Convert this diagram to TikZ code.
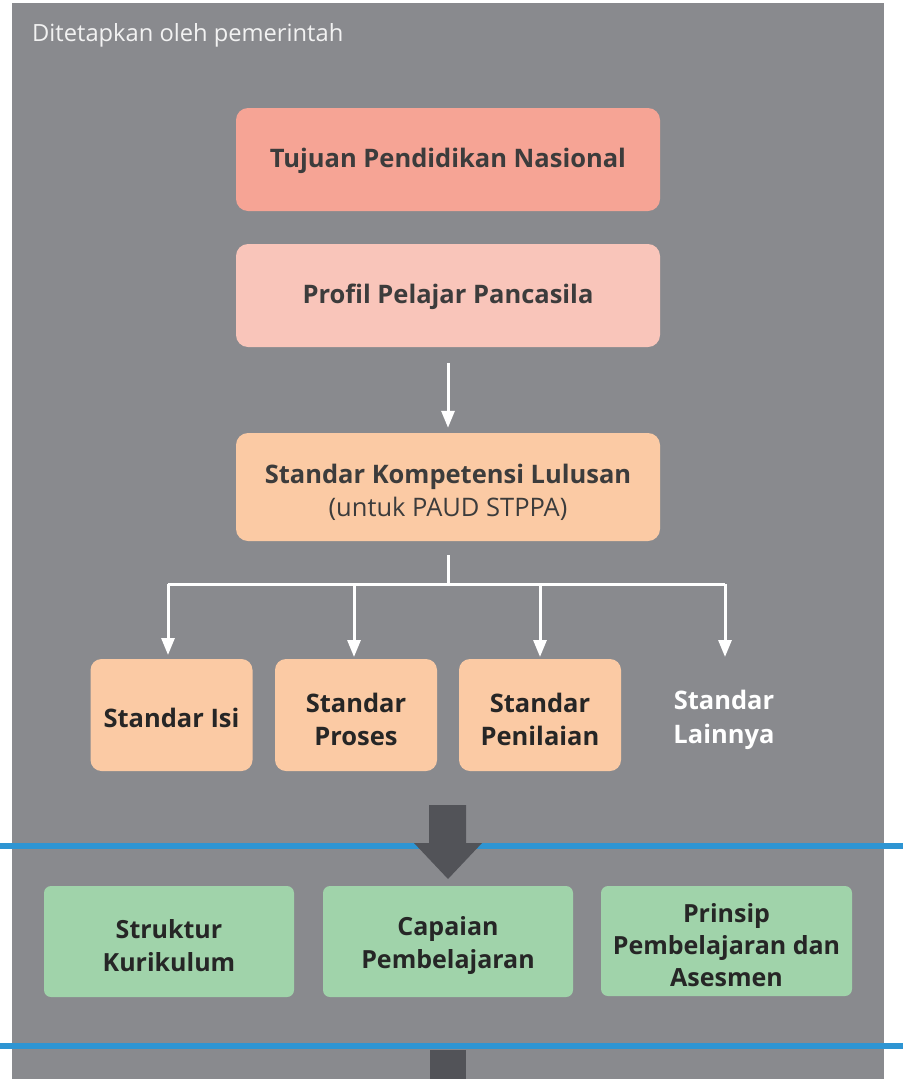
\documentclass[tikz,border=0pt]{standalone}
\usepackage{fontspec}
\setmainfont{Open Sans}
\usetikzlibrary{arrows.meta}
\definecolor{bgc}{HTML}{898A8E}
\definecolor{tujuanc}{HTML}{F6A495}
\definecolor{profilc}{HTML}{F9C5BA}
\definecolor{orangec}{HTML}{FBCAA4}
\definecolor{greenc}{HTML}{A0D3AA}
\definecolor{bluec}{HTML}{2E95D3}
\definecolor{darkc}{HTML}{525358}
\definecolor{txta}{HTML}{3C3C3C}
\definecolor{txtb}{HTML}{262626}
\begin{document}
\begin{tikzpicture}[x=1pt,y=-1pt,
  topbox/.style={rounded corners=12pt, minimum width=424pt, inner sep=0pt},
  toptxt/.style={align=center, inner sep=0pt, text=txta, font=\fontsize{25.5}{33}\selectfont\bfseries},
  stdbox/.style={fill=orangec, rounded corners=11pt, minimum width=162pt, minimum height=112pt, inner sep=0pt},
  stdtxt/.style={align=center, inner sep=0pt, text=txtb, font=\fontsize{25.5}{33}\selectfont\bfseries},
  grnbox/.style={fill=greenc, rounded corners=7pt, minimum width=250pt, minimum height=111pt, inner sep=0pt},
  grntxt/.style={align=center, inner sep=0pt, text=txtb, font=\fontsize{25}{33}\selectfont\bfseries},
  wline/.style={draw=white, line width=3pt},
  warrow/.style={wline, -{Triangle[width=13pt,length=17pt]}, fill=white},
  blueline/.style={draw=bluec, line width=6pt}
]
\useasboundingbox (0,0) rectangle (903,1079);
\fill[bgc] (12,3) rectangle (884,1079);
\node[anchor=west, text=white!95!black, font=\fontsize{23.7}{28}\selectfont, inner sep=0pt] (title) at (32,35) {Ditetapkan oleh pemerintah};

\node[topbox, fill=tujuanc, minimum height=103pt] (tujuan) at (448,159.5) {};
\node[toptxt] (tujuant) at ([yshift=-1pt]tujuan.center) {Tujuan Pendidikan Nasional};
\node[topbox, fill=profilc, minimum height=103pt] (profil) at (448,295.5) {};
\node[toptxt] (profilt) at ([yshift=-1pt]profil.center) {Profil Pelajar Pancasila};
\node[topbox, fill=orangec, minimum height=108pt] (skl) at (448,487) {};
\node[toptxt] (sklt) at ([yshift=-5pt]skl.center) {Standar Kompetensi Lulusan\\{\mdseries(untuk PAUD STPPA)}};

\draw[warrow, shorten <=16pt, shorten >=5pt] (profil.south) -- (skl.north);

\node[stdbox] (isi) at (171.5,715) {};
\node[stdtxt] (isit) at ([yshift=-3pt]isi.center) {Standar Isi};
\node[stdbox] (proses) at (356,715) {};
\node[stdtxt] (prosest) at ([yshift=-4pt]proses.center) {Standar\\Proses};
\node[stdbox] (penilaian) at (540,715) {};
\node[stdtxt] (penilaiant) at ([yshift=-4pt]penilaian.center) {Standar\\Penilaian};
\node[align=center, inner sep=0pt, text=white, font=\fontsize{25.5}{34}\selectfont\bfseries] (lainnya) at (724,720) {Standar\\Lainnya};

\coordinate (bus) at (448,584);
\coordinate (bisi) at (168,584);
\coordinate (blain) at (725,584);
\draw[wline, shorten <=14pt] (skl.south) -- (bus);
\draw[wline] (bisi) -- (blain);
\draw[warrow] (bisi) -- (168,655);
\draw[warrow] (354,584) -- (354,657);
\draw[warrow] (540,584) -- (540,657);
\draw[warrow] (blain) -- (725,657);

\draw[blueline] (0,846) -- (903,846);
\fill[darkc] (429,805) -- (466,805) -- (466,843) -- (482,843) -- (448,879) -- (414,843) -- (429,843) -- cycle;

\node[grnbox] (struktur) at (169,941.5) {};
\node[grntxt] (strukturt) at ([yshift=-4pt]struktur.center) {Struktur\\Kurikulum};
\node[grnbox] (capaian) at (448,941.5) {};
\node[grntxt] (capaiant) at ([yshift=-4pt]capaian.center) {Capaian\\Pembelajaran};
\node[grnbox, minimum width=251pt, minimum height=110pt] (prinsip) at (726.5,941) {};
\node[grntxt, font=\fontsize{25}{32}\selectfont\bfseries] (prinsipt) at ([yshift=-4pt]prinsip.center) {Prinsip\\Pembelajaran dan\\Asesmen};

\draw[blueline] (0,1046) -- (903,1046);
\fill[darkc] (430,1050) rectangle (466,1079);
\end{tikzpicture}
\end{document}
